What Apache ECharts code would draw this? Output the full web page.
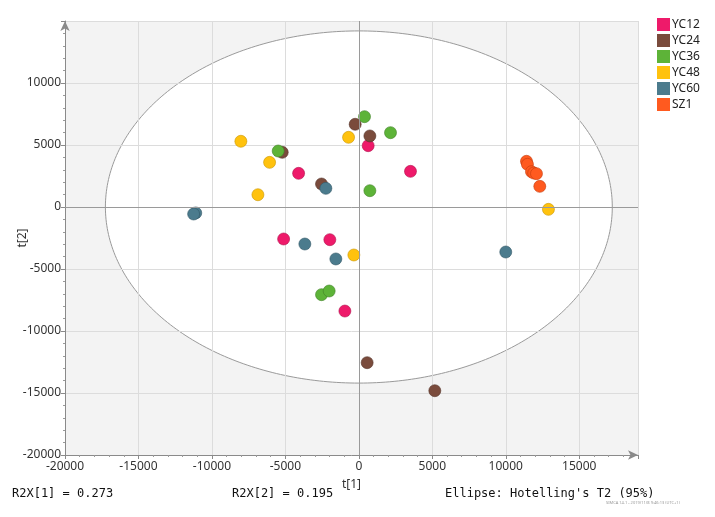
<!DOCTYPE html>
<html>
<head>
<meta charset="utf-8">
<script src="https://cdn.jsdelivr.net/npm/echarts@6/dist/echarts.min.js"></script>
<style>html,body{margin:0;padding:0;background:#fff}#c{width:715px;height:517px}</style>
</head>
<body>
<div id="c"></div>
<script>
const groups = ['YC12','YC24','YC36','YC48','YC60','SZ1'];
const colors = ['#ee1a6a','#7a4b3c','#5db338','#ffc20e','#4b7b8d','#ff5a1f'];
const borders = ['#b0124e','#55342a','#3f8126','#c99500','#335866','#c23d0f'];
const YC12 = [[-4100,2715],[635,4945],[3515,2875],[-5120,-2580],[-1975,-2635],[-950,-8390]];
const YC24 = [[-5215,4410],[-2540,1855],[-250,6670],[750,5730],[565,-12555],[5170,-14815]];
const YC36 = [[-5490,4516],[385,7285],[2155,5995],[750,1315],[-2540,-7070],[-2020,-6775]];
const YC48 = [[-8030,5300],[-6075,3600],[-6870,990],[-700,5620],[-340,-3870],[12905,-190]];
const YC60 = [[-11100,-480],[-11245,-565],[-2245,1505],[-3675,-2985],[-1565,-4190],[10000,-3630]];
const SZ1 = [[11410,3685],[11475,3440],[11750,2850],[11900,2740],[12090,2690],[12315,1665]];
const seriesData = [YC12,YC24,YC36,YC48,YC60,SZ1];
const ellipseCenter = [0,0];
const ellipseRadii = [17250,14200];
const xTicks = [-20000,-15000,-10000,-5000,0,5000,10000,15000];
const yTicks = [-20000,-15000,-10000,-5000,0,5000,10000];

const chart = echarts.init(document.getElementById('c'));
const series = [{
  type:'custom', z:-1, silent:true,
  data:[ellipseCenter.concat(ellipseRadii)],
  renderItem:function(params, api){
    const cs = params.coordSys;
    const cx = api.value(0), cy = api.value(1), rx = api.value(2), ry = api.value(3);
    const pts = [];
    for (let i=0;i<360;i++){
      const a = i/360*Math.PI*2;
      pts.push(api.coord([cx+rx*Math.cos(a), cy+ry*Math.sin(a)]));
    }
    return {type:'group', children:[
      {type:'rect', shape:{x:cs.x,y:cs.y,width:cs.width,height:cs.height}, style:{fill:'#f3f3f3'}},
      {type:'polygon', shape:{points:pts}, style:{fill:'#ffffff', stroke:'#9a9a9a', lineWidth:1}}
    ]};
  }
}];
groups.forEach(function(g,i){
  series.push({
    name:g, type:'scatter', data:seriesData[i], symbolSize:12,
    itemStyle:{color:colors[i], borderColor:borders[i], borderWidth:0.6, opacity:1},
    markLine: i===0 ? {silent:true, symbol:'none', label:{show:false}, lineStyle:{color:'#9a9a9a', type:'solid', width:1},
      data:[{xAxis:0},{yAxis:0}], animation:false} : undefined
  });
});
const axisCommon = {
  type:'value', interval:5000,
  axisLine:{show:true, onZero:false, symbol:['none','arrow'], symbolSize:[7,10], lineStyle:{color:'#8a8a8a'}},
  axisTick:{show:true, length:4, lineStyle:{color:'#8a8a8a'}},
  minorTick:{show:true, splitNumber:5, length:2, lineStyle:{color:'#9a9a9a'}},
  axisLabel:{color:'#333', fontSize:12, fontFamily:'Noto Sans', showMaxLabel:false, margin:4,
    formatter:function(v){return String(v);}},
  nameTextStyle:{color:'#333', fontSize:12, fontFamily:'Noto Sans'},
  nameLocation:'middle', nameMoveOverlap:false
};
chart.setOption({
  animation:false,
  backgroundColor:'#fff',
  grid:{left:65, right:77, top:21, bottom:62, containLabel:false, outerBoundsMode:'none'},
  legend:{
    data:groups, orient:'vertical', left:652, top:13, itemWidth:13, itemHeight:13, itemGap:3,
    icon:'rect', itemStyle:{borderWidth:0},
    textStyle:{color:'#222', fontSize:12, fontFamily:'Noto Sans', lineHeight:13, padding:[0,0,0,-3]}
  },
  xAxis:Object.assign({}, axisCommon, {
    min:-20000, max:19000, name:'t[1]', nameGap:24,
    axisLabel:Object.assign({}, axisCommon.axisLabel, {margin:6}),
    splitLine:{show:true, interval:function(i,v){return xTicks.indexOf(v)>=0;}, lineStyle:{color:'#dcdcdc'}}
  }),
  yAxis:Object.assign({}, axisCommon, {
    min:-20000, max:15000, name:'t[2]', nameGap:36,
    splitLine:{show:true, interval:function(i,v){return yTicks.indexOf(v)>=0;}, lineStyle:{color:'#dcdcdc'}}
  }),
  graphic:[
    {type:'text', left:12, top:488, style:{text:'R2X[1] = 0.273', font:'12px "DejaVu Sans Mono"', fill:'#111'}},
    {type:'text', left:232, top:488, style:{text:'R2X[2] = 0.195', font:'12px "DejaVu Sans Mono"', fill:'#111'}},
    {type:'text', left:445, top:488, style:{text:"Ellipse: Hotelling's T2 (95%)", font:'12px "DejaVu Sans Mono"', fill:'#111'}},
    {type:'text', left:606, top:501, style:{text:'SIMCA 14.1 - 2019/11/8 9:46:13 (UTC+1)', font:'4px "Noto Sans"', fill:'#999'}}
  ],
  series:series
});
</script>
</body>
</html>
